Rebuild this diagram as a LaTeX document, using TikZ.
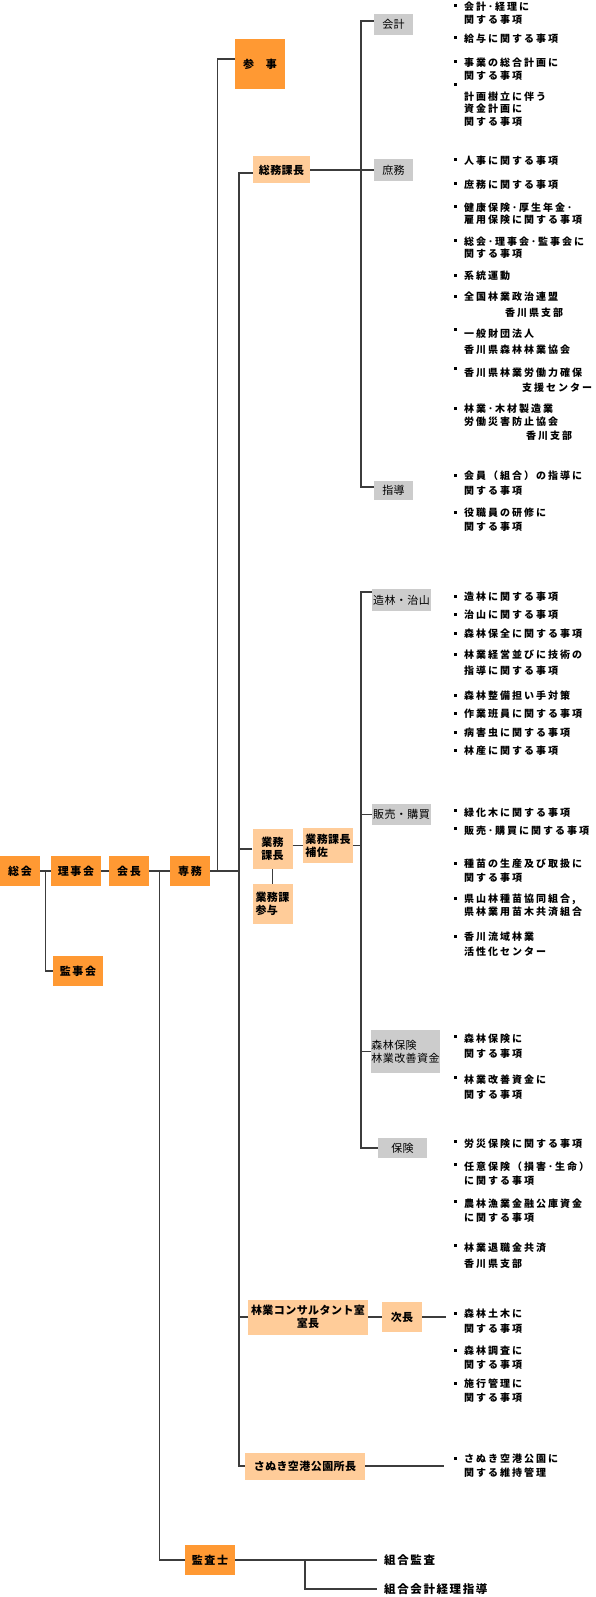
\documentclass[tikz,border=0pt]{standalone}
\usepackage{fontspec}
\setmainfont{Noto Sans CJK JP}
\newfontfamily\jpbox{Noto Sans CJK JP}[LetterSpace=4]
\newfontfamily\jphead{Noto Sans CJK JP}[LetterSpace=14]
\newfontfamily\jpduty{Noto Sans CJK JP}[LetterSpace=20]
\definecolor{HeadOrange}{RGB}{255,153,51}
\definecolor{SubOrange}{RGB}{255,204,153}
\definecolor{SecGray}{RGB}{204,204,204}
\definecolor{LinkGray}{RGB}{60,60,60}
\usepackage{tikz}

% duty item: [line skip]{name}{bullet y}{first line y}{text}
\newcommand\duty[5][14]{%
  \node[duty,font=\jpduty\bfseries\fontsize{10}{#1}\selectfont] (#2) at (464,#4-4.7) {\rule{0pt}{8.5pt}#5};
  \fill (454,#3-1.5) rectangle ++(3,3);}

\begin{document}
\begin{tikzpicture}[x=1pt,y=-1pt,
    head/.style={fill=HeadOrange,inner sep=0,minimum height=30pt,
                 font=\jphead\bfseries\fontsize{11}{13}\selectfont},
    sub/.style={fill=SubOrange,inner sep=0,align=center,
                font=\jpbox\bfseries\fontsize{11}{13}\selectfont},
    sect/.style={fill=SecGray,inner sep=0,align=left,
                 font=\jpbox\fontsize{11}{13}\selectfont},
    duty/.style={anchor=north west,inner sep=0,align=left},
    result/.style={anchor=west,inner xsep=7pt,inner ysep=0,
                   font=\jphead\bfseries\fontsize{11.5}{13}\selectfont},
    link/.style={draw=LinkGray,line width=1.3pt}]
  \path[use as bounding box,fill=white] (0,0) rectangle (595,1597);

  % main line
  \node[head,minimum width=40pt] (soukai)   at (20,871)  {総会};
  \node[head,minimum width=50pt] (rijikai)  at (76,871)  {理事会};
  \node[head,minimum width=40pt] (kaicho)   at (129,871) {会長};
  \node[head,minimum width=40pt] (senmu)    at (190,871) {専務};
  \node[head,minimum width=50pt] (kanjikai) at (78,971)  {監事会};
  \node[head,minimum width=50pt,minimum height=50pt] (sanji) at (260,64) {参\hspace{12pt}事};
  \node[head,minimum width=50pt] (kansashi) at (210,1560) {監査士};

  % sections
  \node[sub,minimum width=57pt,minimum height=27pt] (somu) at (281.5,170) {総務課長};
  \node[sub,minimum width=40pt,minimum height=40pt] (gyomu) at (272.5,849) {業務\\課長};
  \node[sub,minimum width=40pt,minimum height=40pt,align=left] (sanyo) at (272.5,904) {業務課\\参与};
  \node[sub,minimum width=50pt,minimum height=35pt,align=left] (hosa) at (328,845.5) {業務課長\\補佐};
  \node[sub,minimum width=120pt,minimum height=35pt] (consul) at (308,1317) {林業コンサルタント室\\室長};
  \node[sub,minimum width=40pt,minimum height=30pt] (jicho) at (402,1317) {次長};
  \node[sub,minimum width=120pt,minimum height=27pt] (sanuki) at (305,1466) {さぬき空港公園所長};

  \node[sect,minimum width=39pt,minimum height=21pt] (kaikei)  at (393.5,24.5)   {会計};
  \node[sect,minimum width=39pt,minimum height=22pt] (shomu)   at (393.5,170)    {庶務};
  \node[sect,minimum width=39pt,minimum height=19pt] (shido)   at (393.5,490.5)  {指導};
  \node[sect,minimum width=59pt,minimum height=22pt] (zorin)   at (401.5,600)    {造林・治山};
  \node[sect,minimum width=59pt,minimum height=21pt] (hanbai)  at (401.5,814.5)  {販売・購買};
  \node[sect,minimum width=69pt,minimum height=43pt] (shinrin) at (405.5,1051.5) {森林保険\\林業改善資金};
  \node[sect,minimum width=49pt,minimum height=20pt] (hoken)   at (402.5,1148)   {保険};

  % duties
  \duty[13]{k1}{6}{6}{会計･経理に\\関する事項}
  \duty{k2}{38}{38}{給与に関する事項}
  \duty[13]{k3}{62}{62}{事業の総合計画に\\関する事項}
  \duty[12.5]{k4}{85}{96}{計画樹立に伴う\\資金計画に\\関する事項}

  \duty{s1}{160}{160}{人事に関する事項}
  \duty{s2}{184}{184}{庶務に関する事項}
  \duty[12]{s3}{207}{207}{健康保険･厚生年金･\\雇用保険に関する事項}
  \duty[12]{s4}{241}{241}{総会･理事会･監事会に\\関する事項}
  \duty{s5}{275}{275}{系統運動}
  \duty[16]{s6}{296}{296}{全国林業政治連盟\\\hspace*{41pt}香川県支部}
  \duty[16]{s7}{329}{333}{一般財団法人\\香川県森林林業協会}
  \duty[15]{s8}{368}{372}{香川県林業労働力確保\\\hspace*{58pt}支援センター}
  \duty[13.5]{s9}{408}{408}{林業･木材製造業\\労働災害防止協会\\\hspace*{62pt}香川支部}

  \duty[15]{d1}{475}{475}{会員（組合）の指導に\\関する事項}
  \duty{d2}{512}{512}{役職員の研修に\\関する事項}

  \duty{z1}{596}{596}{造林に関する事項}
  \duty{z2}{614}{614}{治山に関する事項}
  \duty{z3}{633}{633}{森林保全に関する事項}
  \duty[16]{z4}{654}{654}{林業経営並びに技術の\\指導に関する事項}
  \duty{z5}{695}{695}{森林整備担い手対策}
  \duty{z6}{713}{713}{作業班員に関する事項}
  \duty{z7}{732}{732}{病害虫に関する事項}
  \duty{z8}{750}{750}{林産に関する事項}

  \duty{h1}{810}{812}{緑化木に関する事項}
  \duty{h2}{828}{830}{販売･購買に関する事項}
  \duty{h3}{863}{863}{種苗の生産及び取扱に\\関する事項}
  \duty[13]{h4}{898}{898}{県山林種苗協同組合,\\県林業用苗木共済組合}
  \duty[15]{h5}{936}{936}{香川流域林業\\活性化センター}

  \duty[15]{r1}{1036}{1038}{森林保険に\\関する事項}
  \duty[15]{r2}{1077}{1079}{林業改善資金に\\関する事項}

  \duty{p1}{1141}{1143}{労災保険に関する事項}
  \duty{p2}{1164}{1166}{任意保険（損害･生命）\\に関する事項}
  \duty{p3}{1201}{1203}{農林漁業金融公庫資金\\に関する事項}
  \duty[16]{p4}{1245}{1247}{林業退職金共済\\香川県支部}

  \duty[15]{c1}{1313}{1313}{森林土木に\\関する事項}
  \duty{c2}{1350}{1350}{森林調査に\\関する事項}
  \duty{c3}{1383}{1383}{施行管理に\\関する事項}

  \duty{a1}{1458}{1458}{さぬき空港公園に\\関する維持管理}

  \node[result] (kansa) at (377,1560) {組合監査};
  \node[result] (keiri) at (377,1589) {組合会計経理指導};

  % connectors
  \draw[link] (soukai) -- (rijikai);
  \draw[link] (rijikai) -- (kaicho);
  \draw[link] (kaicho) -- (senmu);
  \draw[link] ([xshift=5pt]soukai.east) |- (kanjikai.west);
  \draw[link] ([xshift=10pt]kaicho.east) |- (kansashi.west);

  \coordinate (trunk) at (239,871);
  \draw[link] (senmu.east) -- (trunk);
  \draw[link] ([xshift=7pt]senmu.east) |- ([yshift=5pt]sanji.west);
  \draw[link] ([yshift=-3pt]somu.west) -| (trunk) |- (sanuki.west);
  \draw[link] (gyomu.west) -- (gyomu.west -| trunk);
  \draw[link] (consul.west) -- (consul.west -| trunk);

  \coordinate (somuv) at (361,170);
  \draw[link] (somu.east) -- (shomu.west);
  \draw[link] ([yshift=3.5pt]kaikei.west) -| (somuv) |- ([yshift=3.5pt]shido.west);

  \draw[link] (gyomu.south) -- (sanyo.north);
  \draw[link] (gyomu.east |- hosa.east) -- (hosa.west);
  \coordinate (gyomuv) at (361,845.5);
  \draw[link] (hosa.east) -- (gyomuv);
  \draw[link] ([yshift=8pt]zorin.west) -| (gyomuv) |- (hoken.west);
  \draw[link] (hanbai.west) -- (hanbai.west -| gyomuv);
  \draw[link] (shinrin.west) -- (shinrin.west -| gyomuv);

  \draw[link] (consul.east) -- (jicho.west);
  \draw[link] (jicho.east) -- ([xshift=-18pt]c1.west |- jicho.east);
  \draw[link] (sanuki.east) -- ([xshift=-20pt]a1.west |- sanuki.east);

  \coordinate (kbr) at (305,1560);
  \draw[link] (kansashi.east) -- (kansa.west);
  \draw[link] (kbr) |- (keiri.west);
\end{tikzpicture}
\end{document}
